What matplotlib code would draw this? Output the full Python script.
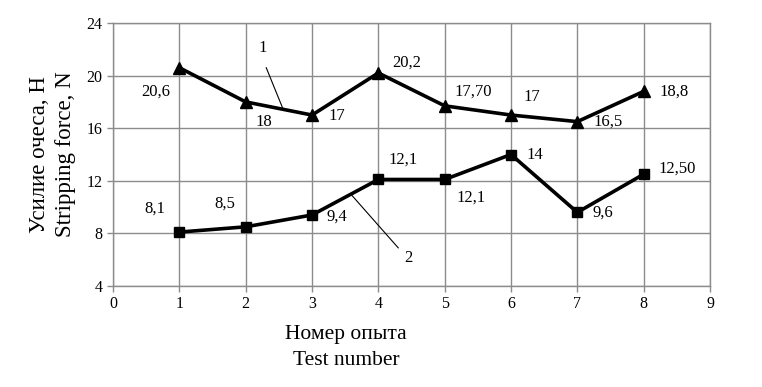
import matplotlib
matplotlib.use("Agg")
import matplotlib.pyplot as plt

plt.rcParams['font.family'] = ['Liberation Serif', 'DejaVu Serif']

tests = [1, 2, 3, 4, 5, 6, 7, 8]
force_1 = [20.6, 18, 17, 20.2, 17.7, 17, 16.5, 18.8]
force_2 = [8.1, 8.5, 9.4, 12.1, 12.1, 14, 9.6, 12.5]
labels_1 = ["20,6", "18", "17", "20,2", "17,70", "17", "16,5", "18,8"]
labels_2 = ["8,1", "8,5", "9,4", "12,1", "12,1", "14", "9,6", "12,50"]
# label positions (data coords)
lpos_1 = [(0.65, 18.75), (2.28, 16.5), (3.37, 16.9), (4.43, 20.95),
          (5.43, 18.75), (6.32, 18.4), (7.47, 16.5), (8.46, 18.75)]
lpos_2 = [(0.63, 9.85), (1.69, 10.3), (3.38, 9.25), (4.38, 13.6),
          (5.4, 10.7), (6.36, 14.0), (7.39, 9.55), (8.5, 12.9)]
xticks = list(range(0, 10))
yticks = [4, 8, 12, 16, 20, 24]

fig = plt.figure(figsize=(7.62, 3.87), dpi=100)
ax = fig.add_axes([113/762, 1-286/387, (710-113)/762, (286-23)/387])

grey = '#8c8c8c'
ax.plot(tests, force_1, color='black', lw=2.6, marker='^', ms=8, zorder=3)
ax.plot(tests, force_2, color='black', lw=2.6, marker='s', ms=7.5, zorder=3)

for (x, y), t in zip(lpos_1, labels_1):
    ax.text(x, y, t, ha='center', va='center', fontsize=12)
for (x, y), t in zip(lpos_2, labels_2):
    ax.text(x, y, t, ha='center', va='center', fontsize=12)

# curve identifiers with leader lines
ax.text(2.25, 22.1, "1", ha='center', va='center', fontsize=12)
ax.plot([2.31, 2.56], [20.6, 17.5], color='black', lw=0.8, zorder=2)
ax.text(4.45, 6.1, "2", ha='center', va='center', fontsize=12)
ax.plot([3.6, 4.3], [10.9, 6.9], color='black', lw=0.8, zorder=2)

ax.set_xlim(0, 9)
ax.set_ylim(4, 24)
ax.set_xticks(xticks)
ax.set_yticks(yticks)
ax.grid(True, color=grey, lw=1.0)
for s in ax.spines.values():
    s.set_color(grey)
    s.set_linewidth(1.0)
ax.tick_params(axis='both', colors=grey, labelcolor='black', labelsize=11.5,
               length=4, width=1.0)

ax.set_xlabel("Номер опыта\nTest number", fontsize=15.5, linespacing=1.45)
ax.xaxis.set_label_coords(0.39, -0.15, transform=ax.transAxes)
ax.xaxis.label.set_va('top')
ax.set_ylabel("Усилие очеса, Н\nStripping force, N", fontsize=16.5, linespacing=1.3)
ax.yaxis.set_label_coords(-0.062, 0.5)

fig.savefig("out.png", dpi=100)
